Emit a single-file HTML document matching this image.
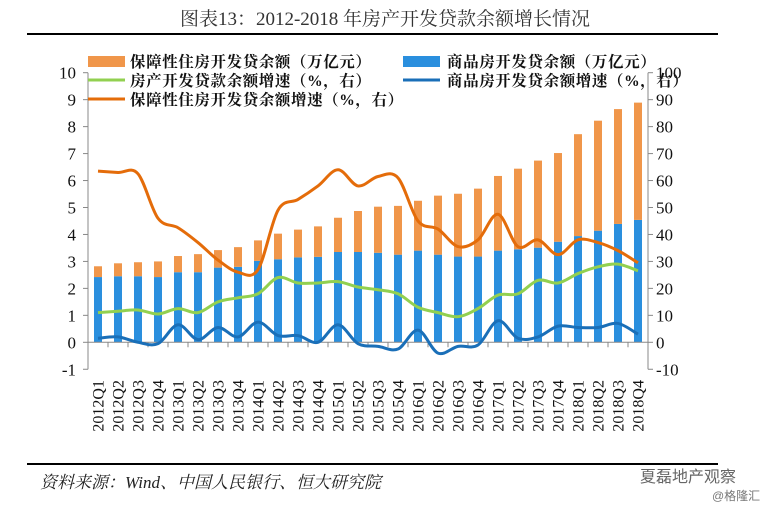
<!DOCTYPE html>
<html><head><meta charset="utf-8"><style>
html,body{margin:0;padding:0;background:#fff;}
svg{display:block;font-family:"Liberation Serif","Noto Serif CJK SC",serif;}
</style></head><body>
<svg id="chart" width="772" height="510" viewBox="0 0 772 510">
<text x="385" y="25" text-anchor="middle" font-size="19" fill="#333">图表13：2012-2018 年房产开发贷款余额增长情况</text>
<line x1="27" y1="34" x2="718" y2="34" stroke="#000" stroke-width="2"/>
<g id="plot"></g>
<g font-size="15.5" font-weight="bold" fill="#111" letter-spacing="0.6">
 <rect x="88" y="56" width="37" height="11" fill="#f0964a"/>
 <text x="130" y="67">保障性住房开发贷余额（万亿元）</text>
 <rect x="403" y="56" width="37" height="11" fill="#2a8fde"/>
 <text x="447" y="67">商品房开发贷余额（万亿元）</text>
 <line x1="88" y1="80" x2="125" y2="80" stroke="#92d050" stroke-width="3"/>
 <text x="130" y="86">房产开发贷款余额增速（%，右）</text>
 <line x1="403" y1="80" x2="440" y2="80" stroke="#1a6fb8" stroke-width="3"/>
 <text x="447" y="86">商品房开发贷余额增速（%，右）</text>
 <line x1="88" y1="99" x2="125" y2="99" stroke="#e46c0a" stroke-width="3"/>
 <text x="130" y="105">保障性住房开发贷余额增速（%，右）</text>
</g>
<line x1="27" y1="464" x2="718" y2="464" stroke="#000" stroke-width="2"/>
<text x="40" y="488" font-size="17" font-style="italic" fill="#222">资料来源：Wind、中国人民银行、恒大研究院</text>
<text x="640" y="482" font-size="16" fill="#666" font-family="Liberation Sans,Noto Sans CJK SC,sans-serif">夏磊地产观察</text>
<text x="712" y="500" font-size="12" fill="#777" font-family="Liberation Sans,Noto Sans CJK SC,sans-serif">@格隆汇</text>
</svg>
<script>
const categories=["2012Q1","2012Q2","2012Q3","2012Q4","2013Q1","2013Q2","2013Q3","2013Q4","2014Q1","2014Q2","2014Q3","2014Q4","2015Q1","2015Q2","2015Q3","2015Q4","2016Q1","2016Q2","2016Q3","2016Q4","2017Q1","2017Q2","2017Q3","2017Q4","2018Q1","2018Q2","2018Q3","2018Q4"];
const commercialBalance=[2.42,2.45,2.45,2.42,2.6,2.6,2.77,2.8,3.02,3.08,3.15,3.17,3.35,3.35,3.32,3.25,3.4,3.25,3.18,3.18,3.4,3.45,3.51,3.73,3.94,4.14,4.39,4.54];
const affordableBalance=[0.40,0.48,0.52,0.58,0.60,0.67,0.65,0.73,0.76,0.95,1.03,1.13,1.27,1.52,1.71,1.81,1.85,2.19,2.33,2.52,2.77,2.99,3.23,3.29,3.78,4.08,4.26,4.35];
const totalGrowth=[11,11.5,12,10.5,12.5,11,15,16.5,18,24,22,22,22.5,20.5,19.5,18,13,11,9.5,12.5,17.5,18,23,22,25.5,28,29,26.5];
const affordableGrowth=[63.5,63,62.5,46,42.5,37,30.5,26,27,49,53,58,64,58,61.5,61,45,42,35.5,38,47.5,35.5,38,32.5,38,37,34,29.5];
const commercialGrowth=[1.5,2,0,-0.5,6.5,1,5.5,2,7.5,2.5,2.5,0,6.5,-0.5,-1.5,-2.5,4.5,-4,-1.5,-1,8,1.5,2,6,5.5,5.5,7,3];
const leftTicks=["-1","0","1","2","3","4","5","6","7","8","9","10"];
const rightTicks=["-10","0","10","20","30","40","50","60","70","80","90","100"];

const NS="http://www.w3.org/2000/svg";
const plot=document.getElementById('plot');
const X0=88,X1=648,Y0=342.3,U=26.96;
const step=(X1-X0)/categories.length;
const xc=i=>X0+step*(i+0.5);
const yL=v=>Y0-v*U;
const yR=v=>Y0-v/10*U;
function mk(tag,attrs){const e=document.createElementNS(NS,tag);for(const k in attrs)e.setAttribute(k,attrs[k]);plot.appendChild(e);return e;}

categories.forEach((c,i)=>{
  const b=commercialBalance[i],a=affordableBalance[i];
  const r1=mk('rect',{x:xc(i)-4,y:yL(b),width:8,height:yL(0)-yL(b),fill:'#2a8fde'});
  
  
  const r2=mk('rect',{x:xc(i)-4,y:yL(b+a),width:8,height:yL(b)-yL(b+a),fill:'#f0964a'});
  
  
});
const la=mk('line',{x1:X0,y1:yL(10),x2:X0,y2:yL(-1),stroke:'#888','stroke-width':1});


const ra=mk('line',{x1:X1,y1:yL(10),x2:X1,y2:yL(-1),stroke:'#888','stroke-width':1});


const xa=mk('line',{x1:X0,y1:yL(0),x2:X1,y2:yL(0),stroke:'#888','stroke-width':1});


leftTicks.forEach(t=>{
  const v=parseFloat(t);
  mk('line',{x1:X0-5,y1:yL(v),x2:X0,y2:yL(v),stroke:'#888'});
  const tx=mk('text',{x:X0-12,y:yL(v)+6,'text-anchor':'end','font-size':17,fill:'#111'});
  tx.textContent=t;
  
  
});
rightTicks.forEach(t=>{
  const v=parseFloat(t);
  mk('line',{x1:X1,y1:yR(v),x2:X1+5,y2:yR(v),stroke:'#888'});
  const tx=mk('text',{x:X1+8,y:yR(v)+6,'text-anchor':'start','font-size':17,fill:'#111'});
  tx.textContent=t;
  
  
});
categories.forEach((c,i)=>{
  mk('line',{x1:X0+step*i,y1:yL(0),x2:X0+step*i,y2:yL(0)+5,stroke:'#888'});
  const tx=mk('text',{x:0,y:0,'text-anchor':'end','font-size':16,fill:'#111',transform:`translate(${xc(i)+5.5},380) rotate(-90)`});
  tx.textContent=c;
  
  
});
function smooth(pts){
  let d=`M${pts[0][0]},${pts[0][1]}`;
  for(let i=0;i<pts.length-1;i++){
    const p0=pts[i-1]||pts[i],p1=pts[i],p2=pts[i+1],p3=pts[i+2]||p2;
    const c1=[p1[0]+(p2[0]-p0[0])/6,p1[1]+(p2[1]-p0[1])/6];
    const c2=[p2[0]-(p3[0]-p1[0])/6,p2[1]-(p3[1]-p1[1])/6];
    d+=` C${c1[0]},${c1[1]} ${c2[0]},${c2[1]} ${p2[0]},${p2[1]}`;
  }
  return d;
}
const series=[[totalGrowth,'#92d050','line-total-growth'],[commercialGrowth,'#1a6fb8','line-commercial-growth'],[affordableGrowth,'#e46c0a','line-affordable-growth']];
series.forEach(s=>{
  const p=mk('path',{d:smooth(s[0].map((v,i)=>[xc(i),yR(v)])),fill:'none',stroke:s[1],'stroke-width':3,'stroke-linejoin':'round'});
  
  
});
</script>
</body></html>
